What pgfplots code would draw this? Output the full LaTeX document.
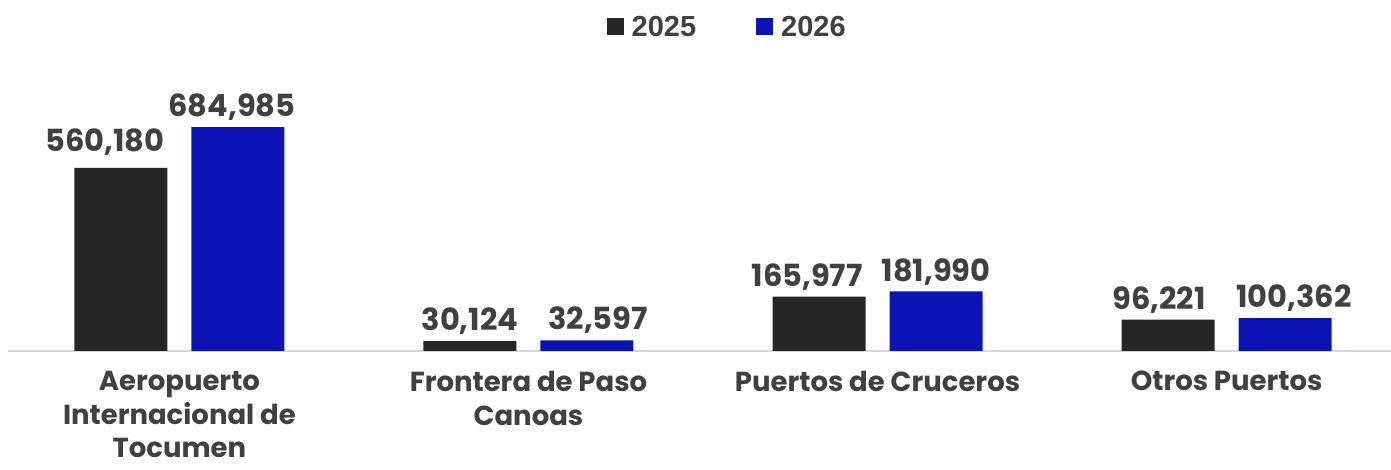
\documentclass[border=0pt]{standalone}
\usepackage{pgfplots}
\pgfplotsset{compat=1.18}
\usepackage{fontspec}
\setmainfont{Poppins}
\newfontfamily\legfont{Liberation Sans}

\definecolor{dark}{HTML}{262626}
\definecolor{azul}{HTML}{0A14B4}
\definecolor{txt}{HTML}{404040}
\definecolor{baseln}{HTML}{D9D9D9}

\begin{document}
\begin{tikzpicture}
\path[use as bounding box] (0,0) rectangle (1391bp,470bp);
\begin{axis}[
  at={(8bp,119bp)}, anchor=south west,
  width=1383bp, height=291bp,
  scale only axis,
  xmin=-0.491, xmax=3.471,
  ymin=0, ymax=890000,
  axis x line=bottom, axis y line=none,
  x axis line style={draw=baseln, line width=2bp, -},
  xtick={0,1,2,3},
  xticklabels={{Aeropuerto\\Internacional de\\Tocumen},{Frontera de Paso\\Canoas},{Puertos de Cruceros},{Otros Puertos}},
  xticklabel style={align=center, font=\fontsize{27.5bp}{33.5bp}\selectfont\bfseries, text=txt, yshift=-19bp, inner ysep=1bp},
  major tick length=0pt,
  ybar, bar width=93bp,
  nodes near coords,
  every node near coord/.append style={font=\fontsize{30.5bp}{32bp}\selectfont\bfseries, text=txt, yshift=3bp},
  /pgf/number format/.cd, fixed, precision=0, 1000 sep={,}, assume math mode=true,
  /pgfplots/.cd,
  legend columns=2,
  legend style={at={(0.520,1.113)}, anchor=center, draw=none, fill=none,
    font=\legfont\fontsize{29bp}{32bp}\selectfont\bfseries, text=txt,
    /tikz/every odd column/.append style={column sep=6bp},
    /tikz/every even column/.append style={column sep=58bp}},
  legend image code/.code={\fill[#1,draw=none] (0bp,-8bp) rectangle (17bp,9bp);},
]
% label offsets as placed in the original
\addplot[fill=dark, draw=none, bar shift=-58.5bp,
  coordinate style/.condition={\coordindex==0}{xshift=-16bp, yshift=6bp},
  coordinate style/.condition={\coordindex==2}{xshift=-12bp},
  coordinate style/.condition={\coordindex==3}{xshift=-9bp}]
  coordinates {(0,560180) (1,30124) (2,165977) (3,96221)};
\addlegendentry{2025}
\addplot[fill=azul, draw=none, bar shift=58.5bp,
  coordinate style/.condition={\coordindex==0}{xshift=-6bp},
  coordinate style/.condition={\coordindex==1}{xshift=11bp},
  coordinate style/.condition={\coordindex==3}{xshift=9bp}]
  coordinates {(0,684985) (1,32597) (2,181990) (3,100362)};
\addlegendentry{2026}
\end{axis}
\end{tikzpicture}
\end{document}
